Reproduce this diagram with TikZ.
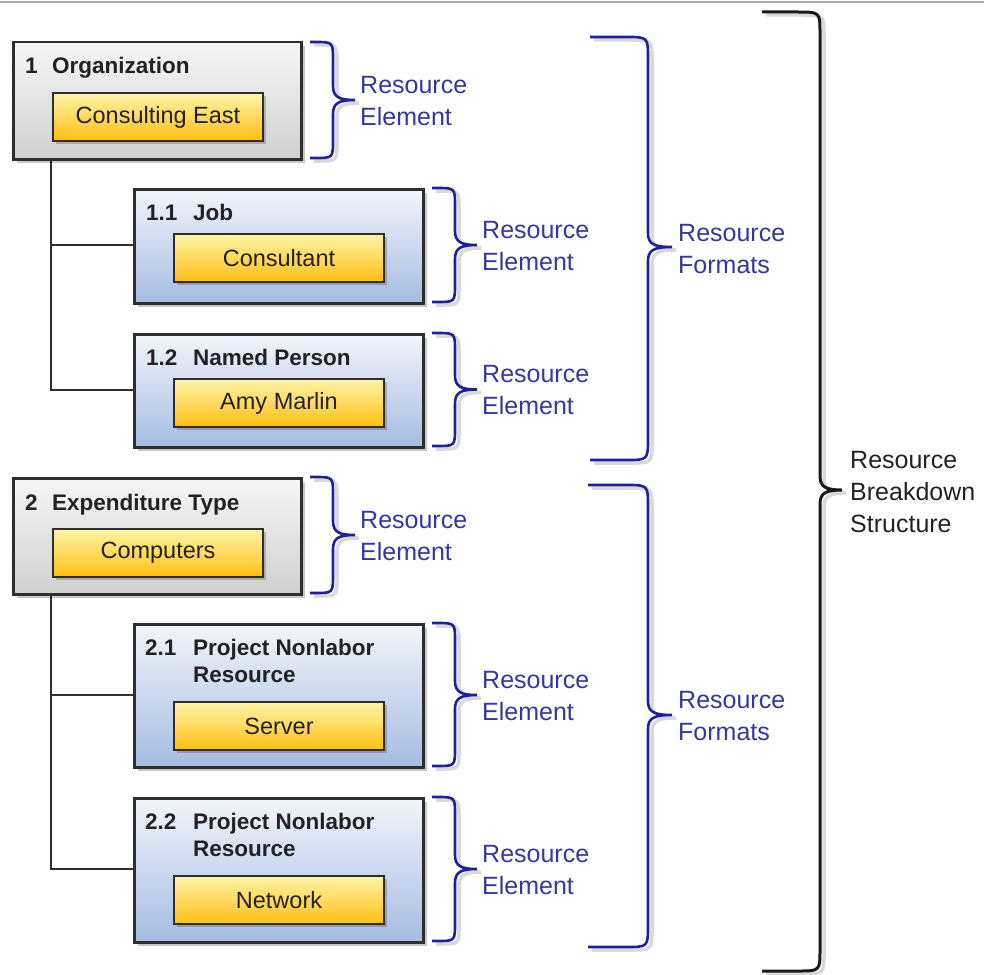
\documentclass[tikz,border=0pt]{standalone}
\usepackage{fontspec}
\setmainfont{Liberation Sans}
\usetikzlibrary{shadows}
\definecolor{bordercol}{HTML}{2E2E2E}
\definecolor{brblue}{HTML}{20209A}
\definecolor{txtblue}{HTML}{3636A2}
\definecolor{graytop}{HTML}{F6F6F6}
\definecolor{graybot}{HTML}{D0D0D0}
\definecolor{bluetop}{HTML}{F2F5FB}
\definecolor{bluebot}{HTML}{A6BBE0}
\definecolor{yeltop}{HTML}{FFF4A8}
\definecolor{yelbot}{HTML}{FFBF12}
\definecolor{blacktxt}{HTML}{222222}
\newcommand\mybr[8]{%
 \draw[#8] (#1,#4) -- ({#2-#7},#4) .. controls (#2,#4) .. (#2,{#4+#7})
   -- (#2,{#5-14}) .. controls (#2,{#5-3}) and ({#2+6},#5) .. (#3,#5)
   .. controls ({#2+6},#5) and (#2,{#5+3}) .. (#2,{#5+14})
   -- (#2,{#6-#7}) .. controls (#2,#6) .. ({#2-#7},#6) -- (#1,#6);}
\newcommand\shbr[8]{%
 \mybr{#1}{#2}{#3}{#4}{#5}{#6}{#7}{brshadow}%
 \mybr{#1}{#2}{#3}{#4}{#5}{#6}{#7}{#8}}
\begin{document}
\begin{tikzpicture}[x=1pt,y=-1pt,
  boxbase/.style={draw=bordercol, line width=2.5pt, anchor=north west, inner sep=0pt,
    drop shadow={shadow xshift=4pt, shadow yshift=-4pt, fill=black, opacity=0.22}},
  graybox/.style={boxbase, top color=graytop, bottom color=graybot, minimum width=288pt},
  bluebox/.style={boxbase, top color=bluetop, bottom color=bluebot, minimum width=289pt},
  ybox/.style={draw=bordercol, line width=2pt, anchor=north west, inner sep=0pt,
    top color=yeltop, bottom color=yelbot, minimum width=210pt, minimum height=48pt,
    font=\fontsize{23.5}{28}\selectfont, text=blacktxt,
    drop shadow={shadow xshift=3pt, shadow yshift=-3pt, fill=black, opacity=0.2}},
  lbl/.style={anchor=base west, inner sep=0pt, font=\bfseries\fontsize{22.5}{27}\selectfont, text=blacktxt},
  bluetxt/.style={anchor=base west, inner sep=0pt, font=\fontsize{25}{32}\selectfont, text=txtblue},
  blacklbl/.style={anchor=base west, inner sep=0pt, font=\fontsize{25}{32}\selectfont, text=blacktxt},
  conn/.style={draw=bordercol, line width=2pt},
  brshadow/.style={draw=black!15, line width=3.5pt, shift={(4,3)}},
  bbrace/.style={draw=brblue, line width=2.6pt},
  kbrace/.style={draw=black!90, line width=3pt}
]
\useasboundingbox (0,0) rectangle (984,974);
\draw[draw=black!35, line width=2pt] (0,2.5) -- (984,2.5);

% connectors
\draw[conn] ([xshift=39pt]12,158) coordinate (c1) |- (333,389.5) coordinate (c1e);
\draw[conn] (51,245) coordinate (c11) -- (133,245) coordinate (c11e);
\draw[conn] (51,593) coordinate (c2) |- (133,869) coordinate (c2e);
\draw[conn] (51,694.5) coordinate (c21) -- (133,694.5) coordinate (c21e);

% boxes
\node[graybox, minimum height=117pt] (o1) at (12,41) {};
\node[lbl] (o1a) at (25,74) {1};
\node[lbl] (o1b) at (52,74) {Organization};
\node[ybox] (o1y) at (52,92) {Consulting East};

\node[bluebox, minimum height=114pt] (j11) at (133,188) {};
\node[lbl] (j11a) at (146,220) {1.1};
\node[lbl] (j11b) at (193,220) {Job};
\node[ybox] (j11y) at (173,233) {Consultant};

\node[bluebox, minimum height=113pt] (p12) at (133,333) {};
\node[lbl] (p12a) at (146,365) {1.2};
\node[lbl] (p12b) at (193,365) {Named Person};
\node[ybox] (p12y) at (173,378) {Amy Marlin};

\node[graybox, minimum height=116pt] (e2) at (12,477) {};
\node[lbl] (e2a) at (25,510) {2};
\node[lbl] (e2b) at (52,510) {Expenditure Type};
\node[ybox] (e2y) at (52,528) {Computers};

\node[bluebox, minimum height=143pt] (r21) at (133,623) {};
\node[lbl] (r21a) at (145,655) {2.1};
\node[lbl] (r21b) at (193,655) {Project Nonlabor};
\node[lbl] (r21c) at (193,682.5) {Resource};
\node[ybox] (r21y) at (173,701) {Server};

\node[bluebox, minimum height=144pt] (r22) at (133,797) {};
\node[lbl] (r22a) at (145,829) {2.2};
\node[lbl] (r22b) at (193,829) {Project Nonlabor};
\node[lbl] (r22c) at (193,856.5) {Resource};
\node[ybox] (r22y) at (173,875) {Network};

% element braces
\shbr{310}{333}{355}{42}{100}{158}{18}{bbrace}
\shbr{432}{455}{477}{188}{245}{302}{18}{bbrace}
\shbr{432}{455}{477}{333}{389.5}{446}{18}{bbrace}
\shbr{310}{333}{355}{477}{535}{593}{18}{bbrace}
\shbr{432}{455}{477}{623}{695}{766}{18}{bbrace}
\shbr{432}{455}{477}{797}{869}{941}{18}{bbrace}
% format braces
\shbr{590}{648}{672}{37}{247}{460}{22}{bbrace}
\shbr{588}{648}{672}{485}{715}{947}{22}{bbrace}
% structure brace
\shbr{762}{820}{842}{12}{490}{971}{22}{kbrace}

% labels
\node[bluetxt] (l1a) at (360,93) {Resource};
\node[bluetxt] (l1b) at (360,125) {Element};
\node[bluetxt] (l2a) at (482,238) {Resource};
\node[bluetxt] (l2b) at (482,270) {Element};
\node[bluetxt] (l3a) at (482,382.5) {Resource};
\node[bluetxt] (l3b) at (482,414.5) {Element};
\node[bluetxt] (l4a) at (360,528) {Resource};
\node[bluetxt] (l4b) at (360,560) {Element};
\node[bluetxt] (l5a) at (482,688) {Resource};
\node[bluetxt] (l5b) at (482,720) {Element};
\node[bluetxt] (l6a) at (482,862) {Resource};
\node[bluetxt] (l6b) at (482,894) {Element};
\node[bluetxt] (f1a) at (678,241) {Resource};
\node[bluetxt] (f1b) at (678,273) {Formats};
\node[bluetxt] (f2a) at (678,708) {Resource};
\node[bluetxt] (f2b) at (678,740) {Formats};
\node[blacklbl] (s1) at (850,468) {Resource};
\node[blacklbl] (s2) at (850,500) {Breakdown};
\node[blacklbl] (s3) at (850,532) {Structure};
\end{tikzpicture}
\end{document}
